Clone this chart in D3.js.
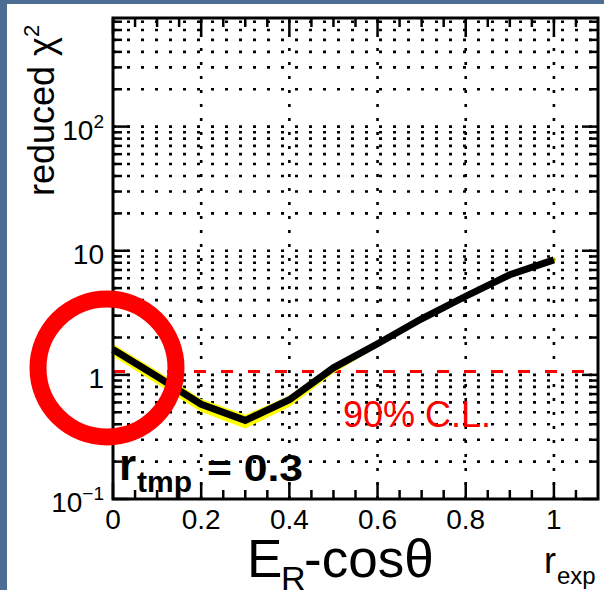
<!DOCTYPE html>
<html>
<head>
<meta charset="utf-8">
<script src="https://cdn.jsdelivr.net/npm/d3@7"></script>
<style>
  body { margin: 0; background: #fff; }
  svg text { font-family: "Liberation Sans", Arial, Helvetica, sans-serif; }
</style>
</head>
<body>
<svg width="604" height="590"></svg>
<script>
// data
let rExp = [0, 0.1, 0.2, 0.3, 0.4, 0.5, 0.6, 0.7, 0.8, 0.9, 1.0];
let chi2 = [1.60, 0.97, 0.58, 0.43, 0.63, 1.14, 1.78, 2.83, 4.3, 6.4, 8.45];
// yellow band round the curve
let bandHi = [1.74, 1.06, 0.63, 0.47, 0.67, 1.20, 1.85, 2.94, 4.47, 6.6, 8.75];
let bandLo = [1.44, 0.86, 0.51, 0.375, 0.56, 1.05, 1.71, 2.74, 4.15, 6.2, 8.2];
let clLevel = 1.067;
let xTicks = [0, 0.2, 0.4, 0.6, 0.8, 1];
let xTickLabels = ["0", "0.2", "0.4", "0.6", "0.8", "1"];
let yTicks = [0.1, 1, 10, 100];
let yTickBase = ["10", "1", "10", "10"];
let yTickExp = ["\u22121", "", "", "2"];

let svg = d3.select("svg"),
    width = +svg.attr("width"),
    height = +svg.attr("height");

// frame of the slide
svg.append("rect").attr("width", width).attr("height", height).attr("fill", "#fff");
svg.append("rect").attr("width", width).attr("height", 4).attr("fill", "#4e6d94");
svg.append("rect").attr("width", 7).attr("height", height).attr("fill", "#4e6d94");

let pLeft = 113, pRight = 598, pTop = 18, pBottom = 499;

let x = d3.scaleLinear().domain([0, 1.1]).range([pLeft, pRight]);
let y = d3.scaleLog().domain([0.1, 750]).range([pBottom, pTop]);

// minor values for the log axis
let yMinor = [];
[0.1, 1, 10, 100].forEach(function (d) {
    for (let k = 1; k <= 9; k++) {
        let v = d * k;
        if (v <= 750) yMinor.push(v);
    }
});
let xMinor = d3.range(0, 22).map(function (i) { return i * 0.05; });

// dotted grid
let grid = svg.append("g").attr("stroke", "#000").attr("stroke-width", 2.6)
    .attr("stroke-dasharray", "3,11");
grid.selectAll(".gh").data(yMinor.filter(function (d) { return d > 0.1; }))
    .enter().append("line")
    .attr("x1", pLeft).attr("x2", pRight)
    .attr("y1", function (d) { return y(d); }).attr("y2", function (d) { return y(d); });
grid.selectAll(".gv").data(xTicks.filter(function (d) { return d > 0; }))
    .enter().append("line")
    .attr("y1", pBottom).attr("y2", pTop)
    .attr("x1", function (d) { return x(d); }).attr("x2", function (d) { return x(d); });

// ticks on all four sides
let ticks = svg.append("g").attr("stroke", "#000").attr("stroke-width", 2.5);
xMinor.forEach(function (d) {
    let major = Math.abs(d * 5 - Math.round(d * 5)) < 1e-6;
    let len = major ? 16 : 9;
    ticks.append("line").attr("x1", x(d)).attr("x2", x(d)).attr("y1", pBottom).attr("y2", pBottom - len);
    ticks.append("line").attr("x1", x(d)).attr("x2", x(d)).attr("y1", pTop).attr("y2", pTop + len);
});
yMinor.forEach(function (d) {
    let major = yTicks.indexOf(d) >= 0;
    let len = major ? 16 : 9;
    ticks.append("line").attr("x1", pLeft).attr("x2", pLeft + len).attr("y1", y(d)).attr("y2", y(d));
    ticks.append("line").attr("x1", pRight).attr("x2", pRight - len).attr("y1", y(d)).attr("y2", y(d));
});

// 90% CL line
svg.append("line")
    .attr("x1", pLeft).attr("x2", pRight)
    .attr("y1", y(clLevel)).attr("y2", y(clLevel))
    .attr("stroke", "#ff0000").attr("stroke-width", 3)
    .attr("stroke-dasharray", "12,15");

// yellow band then black curve
let area = d3.area()
    .x(function (d, i) { return x(rExp[i]); })
    .y0(function (d, i) { return y(bandLo[i]); })
    .y1(function (d, i) { return y(bandHi[i]); });
svg.append("path").datum(rExp).attr("d", area).attr("fill", "#ffff00")
    .attr("stroke", "#ffff00").attr("stroke-width", 1.5);

let line = d3.line()
    .x(function (d, i) { return x(rExp[i]); })
    .y(function (d) { return y(d); });
svg.append("path").datum(chi2).attr("d", line)
    .attr("fill", "none").attr("stroke", "#000").attr("stroke-width", 7)
    .attr("stroke-linejoin", "miter");

// axis frame
svg.append("rect").attr("x", pLeft).attr("y", pTop)
    .attr("width", pRight - pLeft).attr("height", pBottom - pTop)
    .attr("fill", "none").attr("stroke", "#000").attr("stroke-width", 3);

// tick labels
svg.selectAll(".xl").data(xTicks).enter().append("text")
    .attr("x", function (d) { return x(d); }).attr("y", 529)
    .attr("text-anchor", "middle").attr("font-size", 28)
    .text(function (d, i) { return xTickLabels[i]; });

yTicks.forEach(function (d, i) {
    let t = svg.append("text")
        .attr("x", 104).attr("y", y(d) + 13)
        .attr("text-anchor", "end").attr("font-size", 28);
    t.append("tspan").text(yTickBase[i]);
    if (yTickExp[i] != "")
        t.append("tspan").attr("dy", -12).attr("font-size", 19).text(yTickExp[i]);
});

// axis titles
let yt = svg.append("text")
    .attr("transform", "translate(54,196) rotate(-90)")
    .attr("font-size", 36);
yt.append("tspan").text("reduced \u03c7");
yt.append("tspan").attr("dy", -15).attr("font-size", 22).text("2");

svg.append("text").attr("x", 247).attr("y", 577).attr("font-size", 53).text("E");
svg.append("text").attr("x", 281).attr("y", 590).attr("font-size", 34).text("R");
svg.append("text").attr("x", 304).attr("y", 577).attr("font-size", 53).text("-cos\u03b8");

svg.append("text").attr("x", 544).attr("y", 573).attr("font-size", 36).text("r");
svg.append("text").attr("x", 557).attr("y", 584).attr("font-size", 24).text("exp");

// labels inside the frame
svg.append("text").attr("x", 343).attr("y", 427)
    .attr("font-size", 36).attr("fill", "#ff0000").text("90% C.L.");

let rt = svg.append("g").attr("font-weight", "bold");
rt.append("text").attr("x", 119).attr("y", 480).attr("font-size", 44).text("r");
rt.append("text").attr("x", 137).attr("y", 492).attr("font-size", 30).text("tmp");
rt.append("text").attr("x", 207).attr("y", 481).attr("font-size", 37)
    .attr("textLength", 96).attr("lengthAdjust", "spacingAndGlyphs").text("= 0.3");

// red circle
svg.append("circle").attr("cx", 107).attr("cy", 368).attr("r", 69)
    .attr("fill", "none").attr("stroke", "#ff0000").attr("stroke-width", 17);
</script>
</body>
</html>
